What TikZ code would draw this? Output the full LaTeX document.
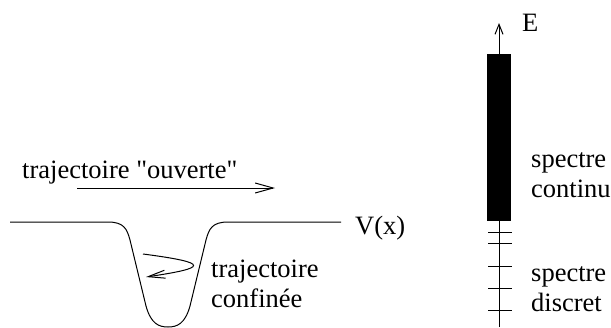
\documentclass[tikz,border=0pt]{standalone}
\usepackage{fontspec}
\setmainfont{Liberation Serif}[Ligatures=TeXOff]
\usetikzlibrary{arrows.meta}

\begin{document}
\begin{tikzpicture}[
  x=1pt, y=-1pt,
  lbl/.style={inner sep=0pt, anchor=base west, align=left,
    font=\fontsize{26.5}{30}\selectfont},
  arr/.style={-{Straight Barb[length=18pt, width=10pt]}, line width=1pt},
  tickline/.style={line width=1pt}
]
  \useasboundingbox (0,0) rectangle (611,327);

  % potential well
  \draw[line width=1pt] (10,222) -- (108,222)
    .. controls (124,222) and (127,229) .. (130,240) -- (146,306)
    .. controls (151,324) and (159,327) .. (168,327)
    .. controls (177,327) and (185,324) .. (190,306) -- (206,240)
    .. controls (209,229) and (212,222) .. (228,222) -- (341,222);
  \node[lbl] (pot) at (355,234) {V(x)};

  % trajectories
  \node[lbl] (open) at (22,178) {trajectoire "ouverte"};
  \coordinate (opena) at (77,188);
  \coordinate (openb) at (275,188);
  \draw[arr] (opena) -- (openb);

  \node[lbl] (conf) at (211,307) {trajectoire\\confinée};
  \coordinate (confa) at (143,254);
  \coordinate (confb) at (146,277);
  \draw[arr, -{Straight Barb[length=17pt, width=8pt]}] (confa)
    .. controls (212,263) and (207,268) .. (confb);

  % energy axis
  \coordinate (axbot) at (499,327);
  \coordinate (axtop) at (499,23);
  \fill (487,54) rectangle (511,221);
  \draw[line width=1pt, -{Straight Barb[length=10pt, width=8pt]}]
    (axbot) -- (axtop);
  \foreach \ty in {232,243,266,288,310}
    \draw[tickline] (488,\ty) -- (512,\ty);
  \node[lbl] (E) at (522,31) {E};
  \node[lbl] (cont) at (531,197) {spectre\\continu};
  \node[lbl] (disc) at (531,311) {spectre\\discret};
\end{tikzpicture}
\end{document}
